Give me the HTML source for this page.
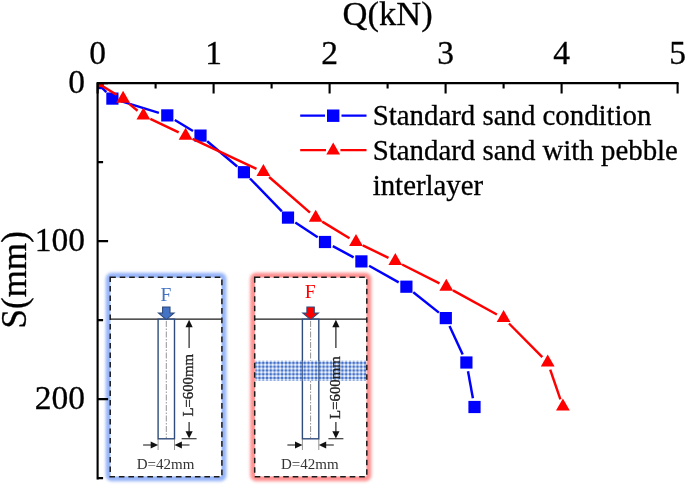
<!DOCTYPE html>
<html><head><meta charset="utf-8"><title>Q-S curve</title>
<style>
html,body{margin:0;padding:0;background:#fff;}
svg{display:block;filter:blur(0.35px);font-family:"Liberation Serif","Times New Roman",serif;}
</style></head>
<body>
<svg width="685" height="486" viewBox="0 0 685 486">
<defs>
<filter id="blur" x="-10%" y="-10%" width="120%" height="120%"><feGaussianBlur stdDeviation="1.5"/></filter>
<clipPath id="plot"><rect x="97.6" y="83.1" width="600" height="400"/></clipPath>
<pattern id="peb" x="253.8" y="361" width="3.77" height="3.77" patternUnits="userSpaceOnUse">
<rect width="3.77" height="3.77" fill="#eef3fc"/>
<rect x="0" y="1" width="3.77" height="1.8" fill="#a9c0ea"/>
<rect x="1" y="0" width="1.8" height="3.77" fill="#a9c0ea"/>
<rect x="0.9" y="0.9" width="2" height="2" fill="#4571c8"/>
</pattern>
</defs>
<rect width="685" height="486" fill="#fff"/>
<rect x="108.7" y="275.8" width="114.7" height="202.4" rx="3" fill="none" stroke="#94b3f8" stroke-width="6" filter="url(#blur)"/>
<rect x="110.6" y="277.7" width="110.9" height="198.6" fill="#fff"/>
<line x1="110.2" y1="319.2" x2="221.9" y2="319.2" stroke="#1a1a1a" stroke-width="1.3"/>
<rect x="158.1" y="319.2" width="16.4" height="119.6" fill="#fff" stroke="#2f4b7c" stroke-width="1.4"/>
<line x1="166.3" y1="321" x2="166.3" y2="438" stroke="#777" stroke-width="0.8" stroke-dasharray="6 1.5 1.5 1.5"/>
<path d="M162.60000000000002,307 H170.0 V313 H174.10000000000002 L166.3,319.6 L158.5,313 H162.60000000000002 Z" fill="#4472c4" stroke="#2f4b7c" stroke-width="1.1" stroke-linejoin="miter"/>
<text x="166.0" y="300.5" font-size="19.5" text-anchor="middle" fill="#4472c4">F</text>
<g stroke="#111" stroke-width="1.1" fill="none"><path d="M189.1,325 V348 M189.1,422 V433 M181.6,438.7 H196.6"/></g>
<g fill="#111"><polygon points="189.1,319.8 185.5,327.2 192.7,327.2"/><polygon points="189.1,438.6 185.5,431.2 192.7,431.2"/></g>
<text transform="translate(193.29999999999998,385.3) rotate(-90)" font-size="14.8" text-anchor="middle" fill="#222" stroke="#222" stroke-width="0.35">L=600mm</text>
<g stroke="#666" stroke-width="0.7"><path d="M158.1,439 V450 M174.5,439 V450"/></g>
<g stroke="#111" stroke-width="1.1"><path d="M143.1,445 H153.1 M179.5,445 H189.5"/></g>
<g fill="#111"><polygon points="158.1,445 150.7,441.6 150.7,448.4"/><polygon points="174.5,445 181.9,441.6 181.9,448.4"/></g>
<text x="165.5" y="468.9" font-size="15" text-anchor="middle" fill="#333">D=42mm</text>
<rect x="110.2" y="277.3" width="111.7" height="199.39999999999998" fill="none" stroke="#1a1a1a" stroke-width="1.5" stroke-dasharray="5.6 3.9"/>
<rect x="253.2" y="275.8" width="115.1" height="202.4" rx="3" fill="none" stroke="#ff9090" stroke-width="6" filter="url(#blur)"/>
<rect x="255.1" y="277.7" width="111.3" height="198.6" fill="#fff"/>
<line x1="254.7" y1="319.2" x2="366.8" y2="319.2" stroke="#1a1a1a" stroke-width="1.3"/>
<rect x="302.4" y="319.2" width="16.4" height="119.6" fill="#fff" stroke="#2f4b7c" stroke-width="1.4"/>
<line x1="310.6" y1="321" x2="310.6" y2="438" stroke="#777" stroke-width="0.8" stroke-dasharray="6 1.5 1.5 1.5"/>
<rect x="255.29999999999998" y="360.6" width="110.9" height="20.4" fill="url(#peb)"/>
<path d="M302.4,360 V381 M318.8,360 V381" stroke="#2f4b7c" stroke-width="1.2" stroke-opacity="0.8"/>
<path d="M306.90000000000003,307 H314.3 V313 H318.40000000000003 L310.6,319.6 L302.8,313 H306.90000000000003 Z" fill="#ff0000" stroke="#2f4b7c" stroke-width="1.1" stroke-linejoin="miter"/>
<text x="310.3" y="298.2" font-size="19.5" text-anchor="middle" fill="#ff0000">F</text>
<g stroke="#111" stroke-width="1.1" fill="none"><path d="M335.9,325 V348 M335.9,422 V433 M328.4,438.7 H343.4"/></g>
<g fill="#111"><polygon points="335.9,319.8 332.29999999999995,327.2 339.5,327.2"/><polygon points="335.9,438.6 332.29999999999995,431.2 339.5,431.2"/></g>
<text transform="translate(340.09999999999997,387.6) rotate(-90)" font-size="14.8" text-anchor="middle" fill="#222" stroke="#222" stroke-width="0.35">L=600mm</text>
<g stroke="#666" stroke-width="0.7"><path d="M302.4,439 V450 M318.8,439 V450"/></g>
<g stroke="#111" stroke-width="1.1"><path d="M287.4,445 H297.4 M323.8,445 H333.8"/></g>
<g fill="#111"><polygon points="302.4,445 295.0,441.6 295.0,448.4"/><polygon points="318.8,445 326.2,441.6 326.2,448.4"/></g>
<text x="309.8" y="468.9" font-size="15" text-anchor="middle" fill="#333">D=42mm</text>
<rect x="254.7" y="277.3" width="112.10000000000002" height="199.39999999999998" fill="none" stroke="#1a1a1a" stroke-width="1.5" stroke-dasharray="5.6 3.9"/>
<g clip-path="url(#plot)">
<g stroke="#0000ff" stroke-width="2.45" fill="none"><line x1="97.6" y1="83.1" x2="106.3" y2="92.2"/><line x1="120.8" y1="101.2" x2="158.9" y2="112.8"/><line x1="174.8" y1="120.0" x2="193.0" y2="131.0"/><line x1="207.2" y1="141.3" x2="237.2" y2="166.5"/><line x1="250.0" y1="178.5" x2="281.9" y2="211.3"/><line x1="295.3" y1="222.4" x2="317.7" y2="237.2"/><line x1="332.8" y1="246.1" x2="353.6" y2="257.3"/><line x1="369.1" y1="265.7" x2="398.7" y2="282.4"/><line x1="413.3" y1="292.2" x2="438.9" y2="312.6"/><line x1="449.5" y1="326.1" x2="462.7" y2="354.5"/><line x1="468.0" y1="371.2" x2="472.9" y2="398.3"/></g>
<g fill="#0000ff"><rect x="91.5" y="77.0" width="12.2" height="12.2"/><rect x="106.3" y="92.5" width="12.2" height="12.2"/><rect x="161.2" y="109.3" width="12.2" height="12.2"/><rect x="194.4" y="129.5" width="12.2" height="12.2"/><rect x="237.8" y="166.1" width="12.2" height="12.2"/><rect x="281.9" y="211.5" width="12.2" height="12.2"/><rect x="318.9" y="235.9" width="12.2" height="12.2"/><rect x="355.3" y="255.3" width="12.2" height="12.2"/><rect x="400.3" y="280.6" width="12.2" height="12.2"/><rect x="439.7" y="312.0" width="12.2" height="12.2"/><rect x="460.3" y="356.4" width="12.2" height="12.2"/><rect x="468.4" y="400.9" width="12.2" height="12.2"/></g>
<g stroke="#ff0000" stroke-width="2.45" fill="none"><line x1="97.6" y1="83.1" x2="116.6" y2="94.7"/><line x1="128.9" y1="103.6" x2="137.6" y2="110.7"/><line x1="150.3" y1="118.9" x2="178.7" y2="132.4"/><line x1="192.5" y1="138.9" x2="256.5" y2="168.8"/><line x1="269.1" y1="177.0" x2="310.0" y2="212.7"/><line x1="322.2" y1="221.6" x2="349.5" y2="238.2"/><line x1="362.8" y1="245.4" x2="388.5" y2="257.8"/><line x1="402.1" y1="264.5" x2="439.5" y2="283.4"/><line x1="453.0" y1="290.4" x2="496.9" y2="314.5"/><line x1="509.0" y1="323.5" x2="542.3" y2="357.1"/><line x1="550.2" y1="369.7" x2="560.4" y2="399.4"/></g>
<g fill="#ff0000"><polygon points="97.6,75.1 90.7,87.1 104.5,87.1"/><polygon points="123.1,90.7 116.2,102.7 130.0,102.7"/><polygon points="143.4,107.6 136.5,119.6 150.3,119.6"/><polygon points="185.6,127.7 178.7,139.7 192.5,139.7"/><polygon points="263.4,164.0 256.5,176.0 270.3,176.0"/><polygon points="315.7,209.7 308.8,221.7 322.6,221.7"/><polygon points="356.0,234.1 349.1,246.1 362.9,246.1"/><polygon points="395.3,253.1 388.4,265.1 402.2,265.1"/><polygon points="446.3,278.8 439.4,290.8 453.2,290.8"/><polygon points="503.6,310.1 496.7,322.1 510.5,322.1"/><polygon points="547.7,354.5 540.8,366.5 554.6,366.5"/><polygon points="562.9,398.6 556.0,410.6 569.8,410.6"/></g>
</g>
<g stroke="#000" stroke-width="2.1" fill="none" stroke-linecap="butt"><path d="M97.6,479.4 V83.1 H678.6" /><path d="M97.6,83.1 v10.5 M155.6,83.1 v5.5 M213.6,83.1 v10.5 M271.6,83.1 v5.5 M329.6,83.1 v10.5 M387.6,83.1 v5.5 M445.6,83.1 v10.5 M503.6,83.1 v5.5 M561.6,83.1 v10.5 M619.6,83.1 v5.5 M677.6,83.1 v10.5 M97.6,83.1 h10.5 M97.6,162.1 h5.5 M97.6,241.1 h10.5 M97.6,320.1 h5.5 M97.6,399.1 h10.5 M97.6,478.1 h5.5"/></g>
<g font-size="33.5" fill="#000" stroke="#000" stroke-width="0.3"><text x="97.6" y="64" text-anchor="middle">0</text><text x="213.6" y="64" text-anchor="middle">1</text><text x="329.6" y="64" text-anchor="middle">2</text><text x="445.6" y="64" text-anchor="middle">3</text><text x="561.6" y="64" text-anchor="middle">4</text><text x="677.6" y="64" text-anchor="middle">5</text><text x="85" y="93.0" text-anchor="end">0</text><text x="85" y="251.0" text-anchor="end">100</text><text x="85" y="409.0" text-anchor="end">200</text><text x="387.6" y="24.7" text-anchor="middle" font-size="34.5">Q(kN)</text><text transform="translate(25.8,279.8) rotate(-90)" text-anchor="middle" font-size="35">S(mm)</text></g>
<g stroke-width="2.2" fill="none">
<path d="M300.2,115.6 H325 M341.5,115.6 H366.5" stroke="#0000ff"/>
<path d="M300.2,150.2 H326 M340.4,150.2 H366.5" stroke="#ff0000"/>
</g>
<g fill="#0000ff"><rect x="327.0" y="109.5" width="12.4" height="12.4"/></g>
<g fill="#ff0000"><polygon points="333.2,142.5 326.3,154.5 340.1,154.5"/></g>
<g font-size="28.85" fill="#000" stroke="#000" stroke-width="0.3">
<text x="372.7" y="125.3">Standard sand condition</text>
<text x="372.7" y="160.3">Standard sand with pebble</text>
<text x="372.7" y="195.3">interlayer</text>
</g>
</svg>
</body></html>
